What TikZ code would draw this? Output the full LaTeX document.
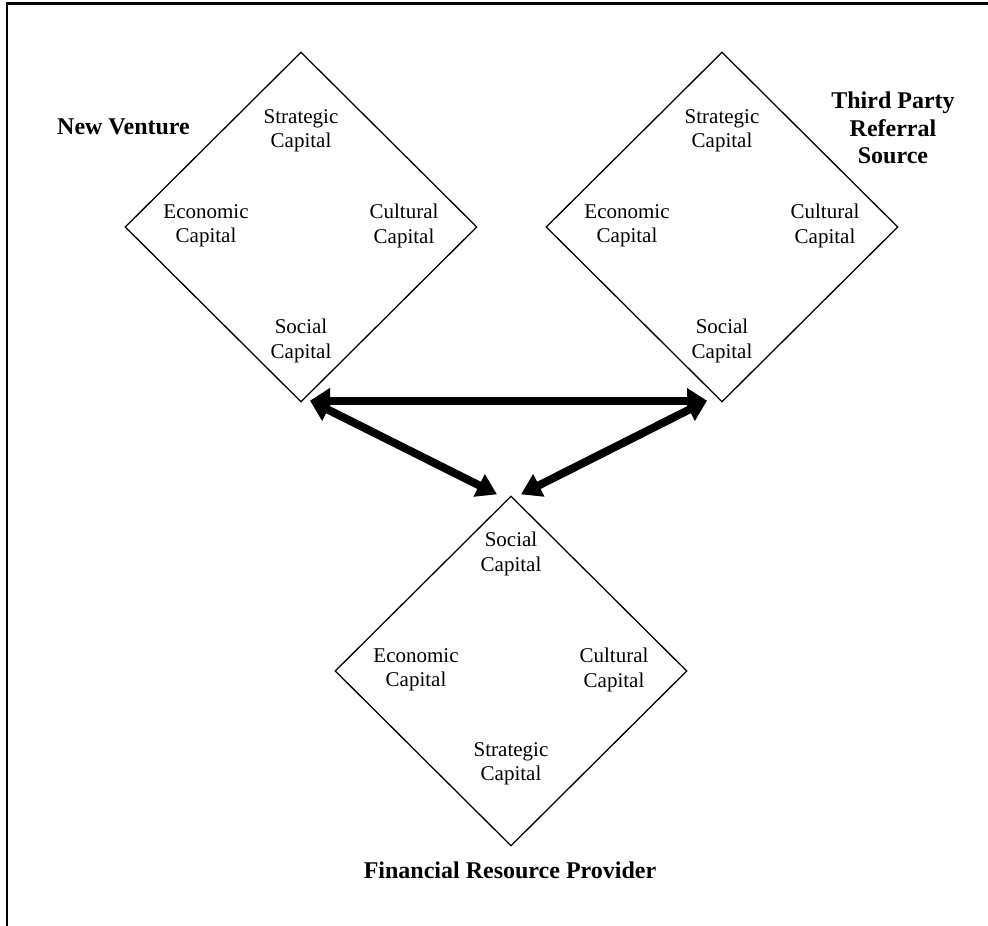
\documentclass[tikz,border=0pt]{standalone}
\usepackage{fontspec}
\setmainfont{Liberation Serif}
\usetikzlibrary{shapes.geometric,arrows.meta}
\begin{document}
\begin{tikzpicture}[x=1pt,y=-1pt,
  capbox/.style={diamond,draw,line width=1.3pt,minimum width=352pt,minimum height=350pt,inner sep=0pt},
  captext/.style={align=center,inner sep=0pt,font=\fontsize{21}{24.5}\selectfont},
  actor/.style={align=center,inner sep=0pt,font=\fontsize{24}{27.5}\selectfont\bfseries},
  link/.style={line width=8pt,{Triangle[length=20pt,width=24pt]}-{Triangle[length=20pt,width=24pt]}}]
\useasboundingbox (0,0) rectangle (988,926);
% frame edges (top and left only)
\draw[line width=2.2pt] (7,926) -- (7,3.5) -- (988,3.5);

% the three capital diamonds
\node[capbox] (nv) at (301,227) {};
\node[capbox] (tp) at (722,227) {};
\node[capbox] (fr) at (511,671) {};

% New Venture
\node[captext] (nvstr) at ([shift={(0,-96)}]nv.center) {Strategic\\Capital};
\node[captext] (nveco) at ([shift={(-95,-1)}]nv.center) {Economic\\Capital};
\node[captext] (nvcul) at ([shift={(103,-1)}]nv.center) {Cultural\\Capital};
\node[captext] (nvsoc) at ([shift={(0,114)}]nv.center) {Social\\Capital};

% Third party referral source
\node[captext] (tpstr) at ([shift={(0,-96)}]tp.center) {Strategic\\Capital};
\node[captext] (tpeco) at ([shift={(-95,-1)}]tp.center) {Economic\\Capital};
\node[captext] (tpcul) at ([shift={(103,-1)}]tp.center) {Cultural\\Capital};
\node[captext] (tpsoc) at ([shift={(0,114)}]tp.center) {Social\\Capital};

% Financial resource provider
\node[captext] (frsoc) at ([shift={(0,-117)}]fr.center) {Social\\Capital};
\node[captext] (freco) at ([shift={(-95,-1)}]fr.center) {Economic\\Capital};
\node[captext] (frcul) at ([shift={(103,-1)}]fr.center) {Cultural\\Capital};
\node[captext] (frstr) at ([shift={(0,93)}]fr.center) {Strategic\\Capital};

% actor labels
\node[actor] (nvlabel) at (123.5,127) {New Venture};
\node[actor] (tplabel) at (893,128) {Third Party\\Referral\\Source};
\node[actor] (frlabel) at (510,870) {Financial Resource Provider};

% arrow ends beside the diamond corners
\coordinate (nvport) at ([shift={(9,-2)}]nv.south);
\coordinate (tpport) at ([shift={(-15,-2)}]tp.south);
\coordinate (frleft) at ([shift={(-14,-1)}]fr.north);
\coordinate (frright) at ([shift={(10,-1)}]fr.north);

\draw[link] (nvport) -- (tpport);
\draw[link] (nvport) -- (frleft);
\draw[link] (tpport) -- (frright);
\end{tikzpicture}
\end{document}
